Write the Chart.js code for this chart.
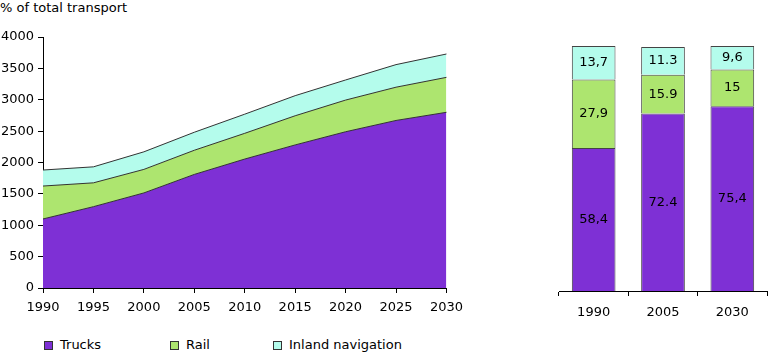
<!DOCTYPE html>
<html>
<head>
<meta charset="utf-8">
<script src="https://cdn.jsdelivr.net/npm/chart.js@4"></script>
<style>
  body { margin: 0; background: #fff; font-family: "DejaVu Sans", Verdana, sans-serif; }
  #wrap { position: relative; width: 768px; height: 354px; overflow: hidden; }
  #titel { position: absolute; left: 0; top: 0; font-size: 13px; color: #000; }
  #links { position: absolute; left: 0; top: 0; }
  #rechts { position: absolute; left: 540px; top: 0; }
  #legende { position: absolute; left: 44px; top: 337px; font-size: 13px; color: #000; }
  #legende span.item { position: absolute; white-space: nowrap; top: 0; }
  #legende span.box { display: inline-block; width: 7px; height: 7px; border: 1px solid #333; margin-right: 7px; vertical-align: -1px; }
</style>
</head>
<body>
<div id="wrap">
  <div id="titel">% of total transport</div>
  <canvas id="links" width="470" height="330"></canvas>
  <canvas id="rechts" width="228" height="330"></canvas>
  <div id="legende"></div>
</div>
<script>
// Jahre und Werte
const jahre = ["1990", "1995", "2000", "2005", "2010", "2015", "2020", "2025", "2030"];
const lkw = [1100, 1296, 1515, 1810, 2055, 2280, 2490, 2670, 2800];
const bahn = [525, 380, 375, 385, 410, 465, 505, 530, 557];
const binnen = [255, 255, 280, 287, 305, 320, 320, 360, 372];

const balkenJahre = ["1990", "2005", "2030"];
const lkwAnteil = [58.4, 72.4, 75.4];
const bahnAnteil = [27.9, 15.9, 15];
const binnenAnteil = [13.7, 11.3, 9.6];
const lkwText = ["58,4", "72.4", "75,4"];
const bahnText = ["27,9", "15.9", "15"];
const binnenText = ["13,7", "11.3", "9,6"];

const namen = ["Trucks", "Rail", "Inland navigation"];
const farben = ["#7E30D5", "#ADE56F", "#B4FCEC"];

Chart.defaults.font.family = "'DejaVu Sans', Verdana, sans-serif";
Chart.defaults.font.size = 13;
Chart.defaults.color = "#000";
Chart.defaults.animation = false;

new Chart(document.getElementById("links"), {
  type: "line",
  data: {
    labels: jahre,
    datasets: [
      { label: namen[0], data: lkw, backgroundColor: farben[0], borderColor: "#333", borderWidth: 1, fill: "origin", pointRadius: 0, tension: 0 },
      { label: namen[1], data: bahn, backgroundColor: farben[1], borderColor: "#333", borderWidth: 1, fill: "-1", pointRadius: 0, tension: 0 },
      { label: namen[2], data: binnen, backgroundColor: farben[2], borderColor: "#333", borderWidth: 1, fill: "-1", pointRadius: 0, tension: 0 }
    ]
  },
  options: {
    responsive: false,
    layout: { padding: { left: 0, right: 22, top: 37, bottom: 0 } },
    plugins: { legend: { display: false }, tooltip: { enabled: false } },
    scales: {
      x: {
        offset: false,
        grid: { drawOnChartArea: false, drawTicks: true, tickLength: 5, color: "#000" },
        border: { display: true, color: "#000" },
        ticks: { padding: 7, maxRotation: 0, autoSkip: false },
        afterFit: s => { s.height = 42; }
      },
      y: {
        stacked: true,
        min: 0, max: 4000,
        grid: { drawOnChartArea: false, drawTicks: true, tickLength: 5, color: "#000" },
        border: { display: true, color: "#000" },
        ticks: { stepSize: 500, padding: 4, callback: v => String(v) },
        afterFit: s => { s.width = 43; }
      }
    }
  }
});

// Beschriftung in der Mitte der Balken
const balkenText = {
  id: "balkenText",
  afterDatasetsDraw(chart) {
    const ctx = chart.ctx;
    const texte = [lkwText, bahnText, binnenText];
    ctx.save();
    ctx.font = "13px 'DejaVu Sans', Verdana, sans-serif";
    ctx.fillStyle = "#000";
    ctx.textAlign = "center";
    ctx.textBaseline = "middle";
    chart.data.datasets.forEach((ds, i) => {
      chart.getDatasetMeta(i).data.forEach((el, j) => {
        ctx.fillText(texte[i][j], el.x, (el.y + el.base) / 2);
      });
    });
    ctx.restore();
  }
};

new Chart(document.getElementById("rechts"), {
  type: "bar",
  data: {
    labels: balkenJahre,
    datasets: [
      { label: namen[0], data: lkwAnteil, backgroundColor: farben[0] },
      { label: namen[1], data: bahnAnteil, backgroundColor: farben[1] },
      { label: namen[2], data: binnenAnteil, backgroundColor: farben[2] }
    ]
  },
  options: {
    responsive: false,
    layout: { padding: { left: 19, right: 1, top: 46, bottom: 0 } },
    datasets: { bar: { barPercentage: 0.63, categoryPercentage: 1, borderColor: "#444", borderWidth: 1 } },
    plugins: { legend: { display: false }, tooltip: { enabled: false } },
    scales: {
      x: {
        stacked: true,
        grid: { offset: true, drawOnChartArea: false, drawTicks: true, tickLength: 5, color: "#000" },
        border: { display: true, color: "#000" },
        ticks: { padding: 9 },
        afterFit: s => { s.height = 39; }
      },
      y: {
        stacked: true,
        display: false,
        min: 0, max: 100
      }
    }
  },
  plugins: [balkenText]
});

// Legende unten
const legende = document.getElementById("legende");
const posX = [0, 126, 229];
namen.forEach((n, i) => {
  const s = document.createElement("span");
  s.className = "item";
  s.style.left = posX[i] + "px";
  s.innerHTML = '<span class="box" style="background:' + farben[i] + '"></span>' + n;
  legende.appendChild(s);
});
</script>
</body>
</html>
